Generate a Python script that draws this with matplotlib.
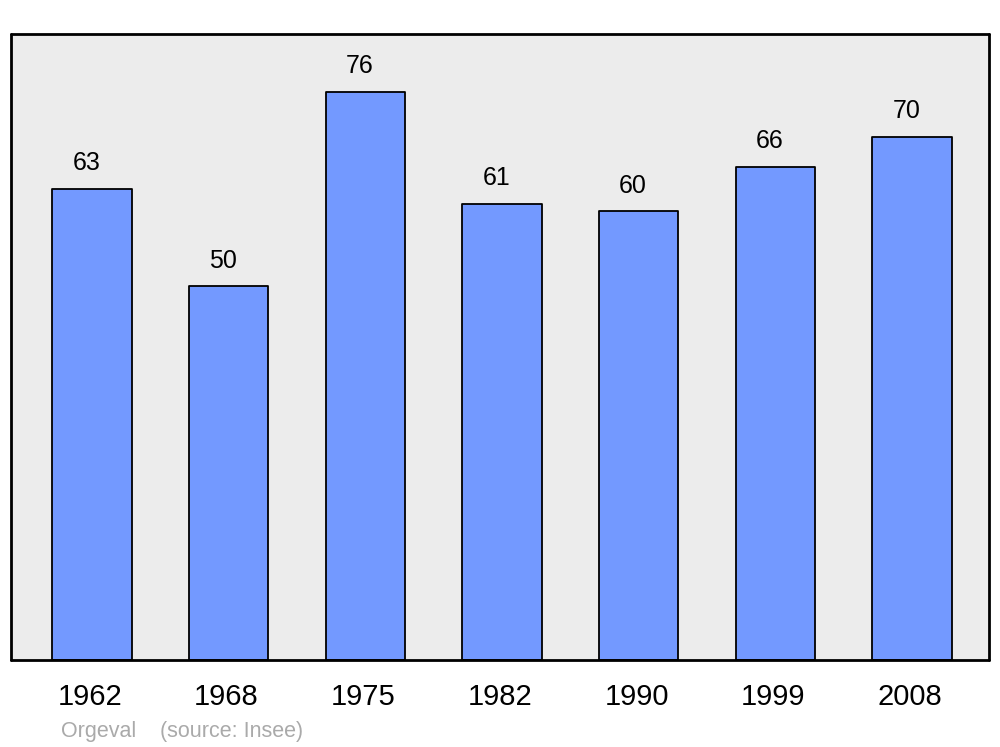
import matplotlib
matplotlib.use("Agg")
import matplotlib.pyplot as plt
import numpy as np

years = ["1962", "1968", "1975", "1982", "1990", "1999", "2008"]
population = [63, 50, 76, 61, 60, 66, 70]
commune = "Orgeval"
source = "(source: Insee)"

plt.rcParams['font.family'] = ['Liberation Sans', 'DejaVu Sans']


def main():
    fig = plt.figure(figsize=(10, 7.47), dpi=100)
    ax = fig.add_axes([0.011, 87 / 747, 0.978, 626 / 747])
    ax.set_facecolor("#ececec")

    x = np.arange(len(years))
    ax.bar(x, population, width=0.58, color="#7399ff", edgecolor="black",
           linewidth=1.3, joinstyle="round", zorder=2)

    for xi, v in zip(x, population):
        ax.annotate(str(v), (xi, v), xytext=(-4, 18.5), textcoords="offset points",
                    ha="center", va="center", fontsize=18)
        ax.annotate(years[xi], (xi, 0), xycoords=("data", "axes fraction"),
                    xytext=(-1.5, -26.5), textcoords="offset points",
                    ha="center", va="center", fontsize=21, annotation_clip=False)

    ax.set_xlim(-81 / 136.67, (978 - 81) / 136.67)
    ax.set_ylim(0, 626 / 7.476)
    ax.set_xticks([])
    ax.set_yticks([])
    for s in ax.spines.values():
        s.set_linewidth(2)
        s.set_joinstyle("round")
        s.set_capstyle("round")

    fig.text(61 / 1000, 1 - 731 / 747, commune, color="#aaaaaa", fontsize=15.5, va="center")
    fig.text(160 / 1000, 1 - 731 / 747, source, color="#aaaaaa", fontsize=15.5, va="center")

    fig.savefig("out.png", dpi=100)


if __name__ == "__main__":
    main()
